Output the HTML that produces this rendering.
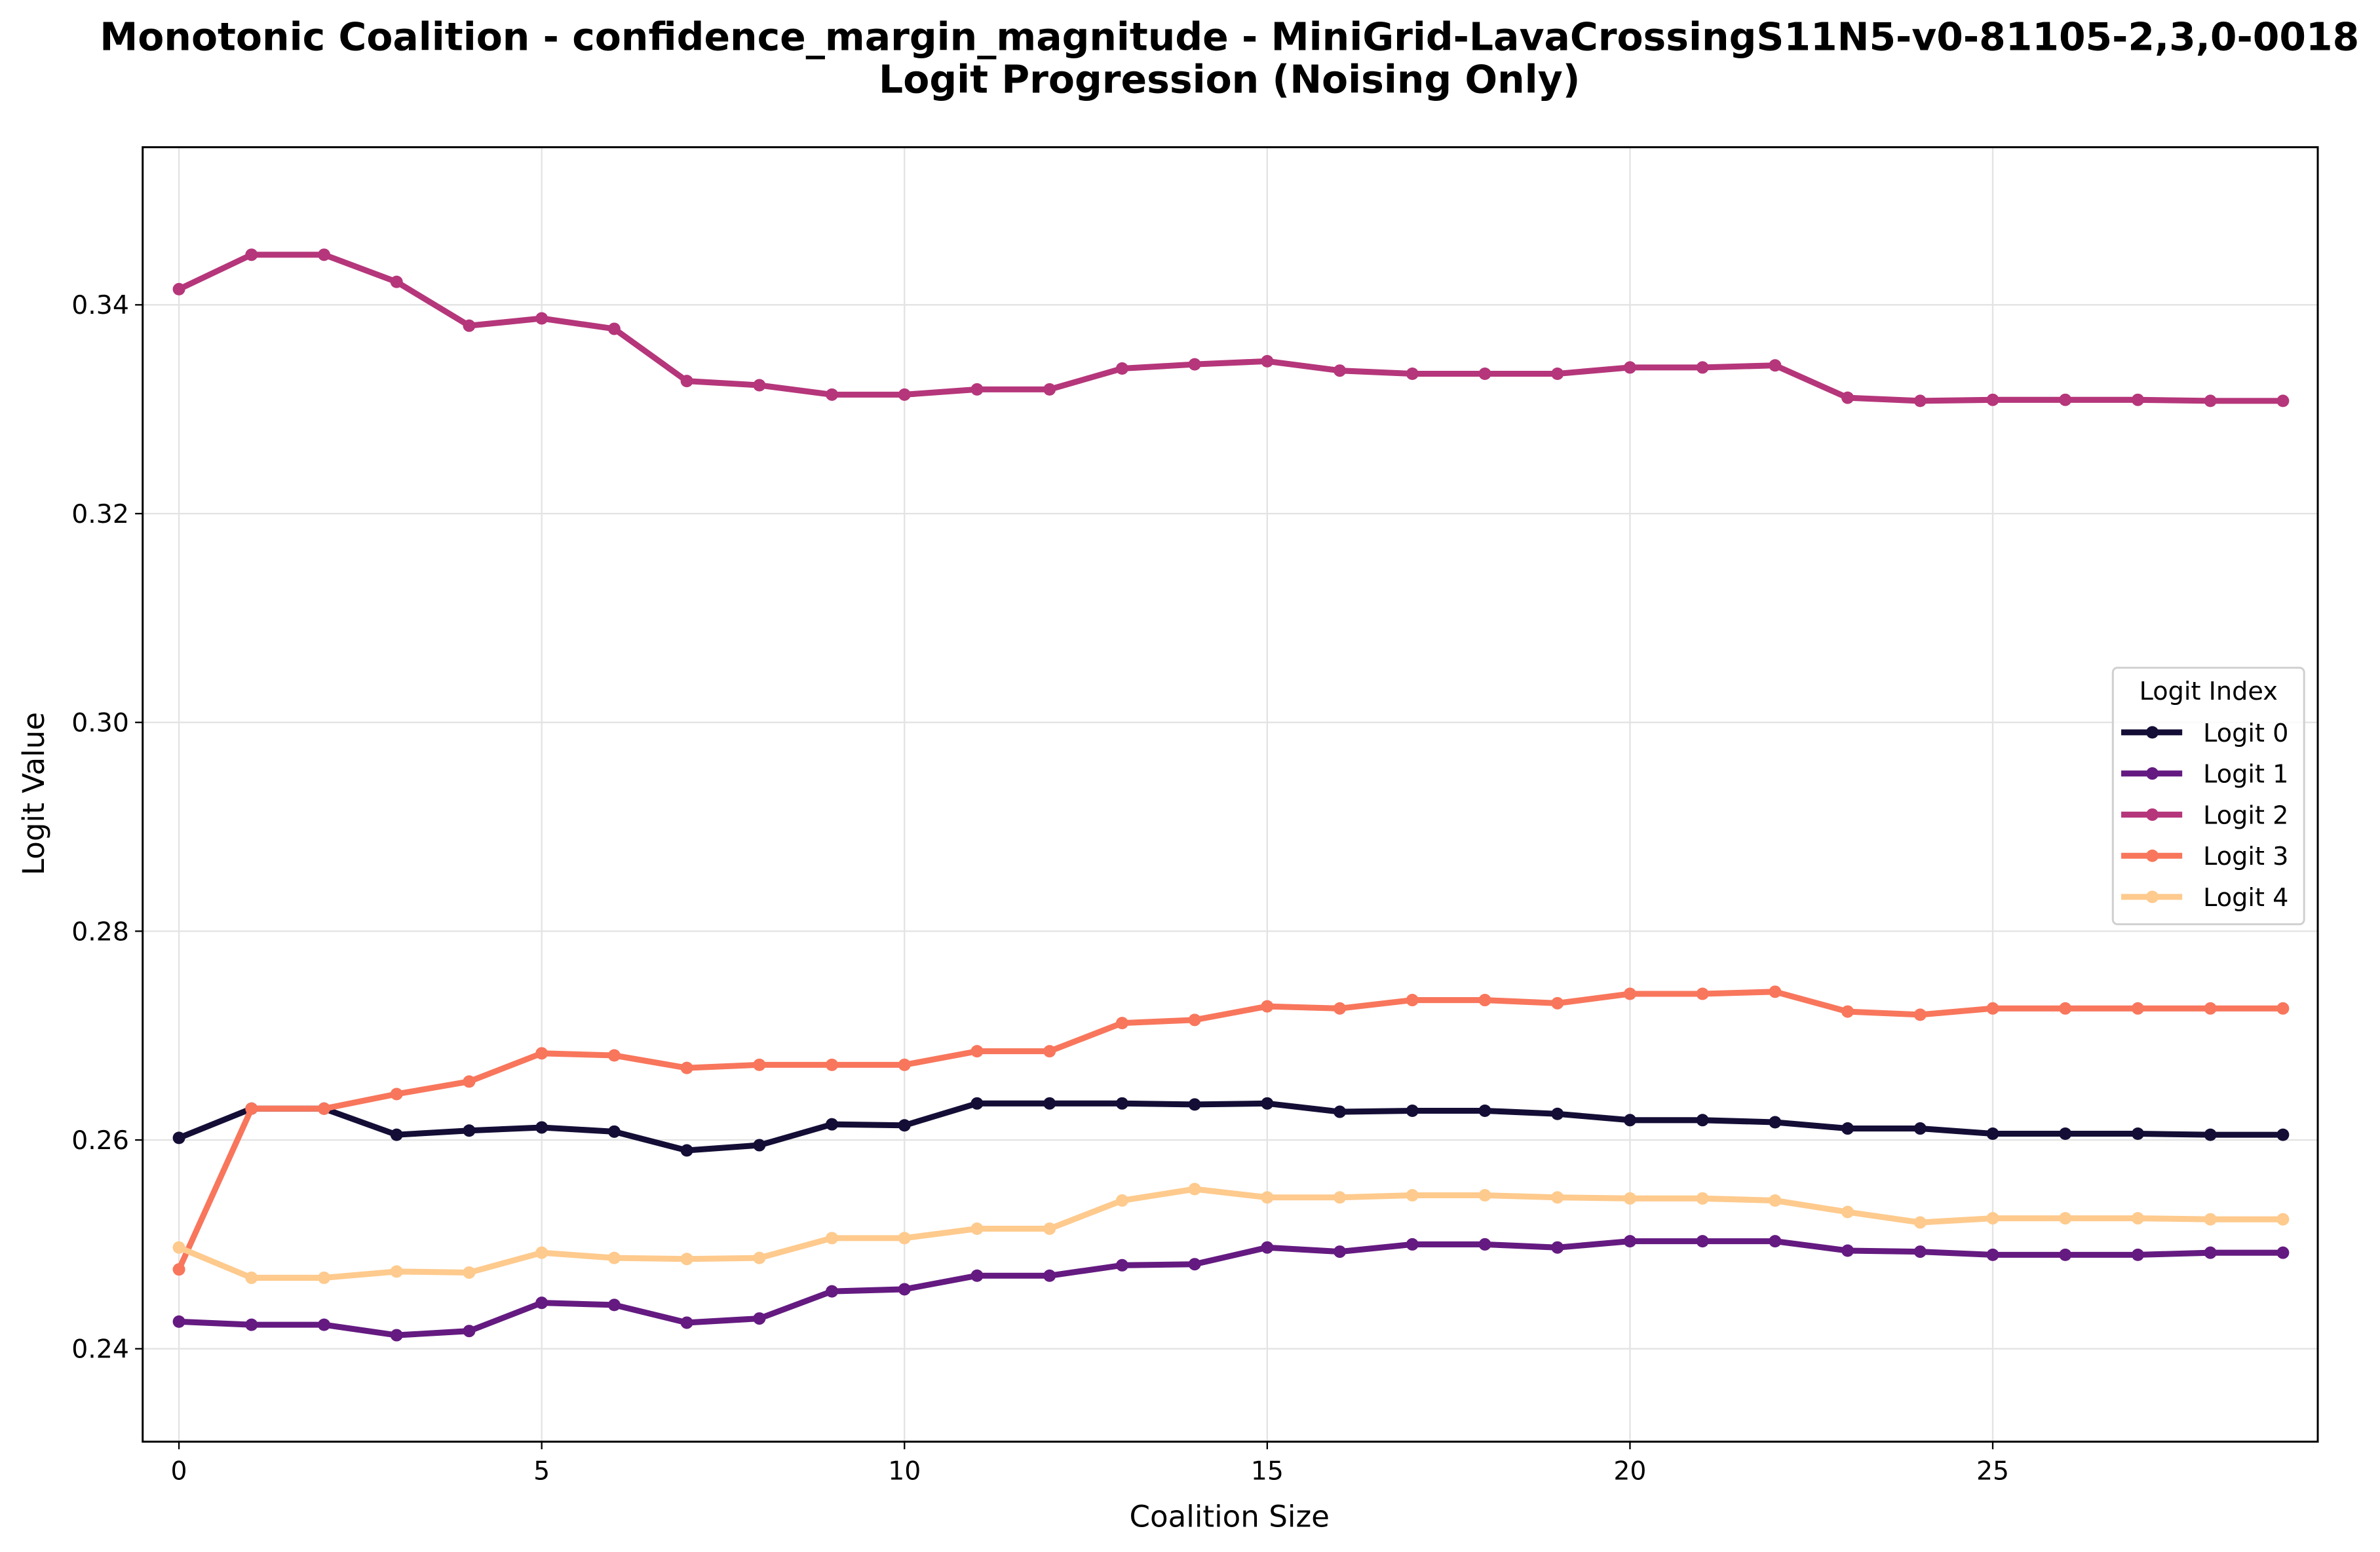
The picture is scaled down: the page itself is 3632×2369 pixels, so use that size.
<!DOCTYPE html>
<html><head><meta charset="utf-8"><style>html,body{margin:0;padding:0;background:#fff}svg{display:block}text{font-family:"DejaVu Sans","Liberation Sans",sans-serif}</style></head>
<body>
<svg id="chart" width="3632" height="2369" viewBox="0 0 1568 1022.7" preserveAspectRatio="none" xmlns="http://www.w3.org/2000/svg">
<rect width="1568" height="1022.7" fill="#fff"/>
<text x="810" y="33" text-anchor="middle" font-size="25.2" font-weight="bold">Monotonic Coalition - confidence_margin_magnitude - MiniGrid-LavaCrossingS11N5-v0-81105-2,3,0-0018</text>
<text x="810" y="61" text-anchor="middle" font-size="25.2" font-weight="bold">Logit Progression (Noising Only)</text>
<g id="grid"></g>
<g id="series"></g>
<rect x="94" y="97" width="1433" height="853" fill="none" stroke="#000" stroke-width="1.3"/>
<g id="axes"></g>
<text x="810" y="1006" text-anchor="middle" font-size="19.5">Coalition Size</text>
<text transform="translate(29,523) rotate(-90)" text-anchor="middle" font-size="19.5">Logit Value</text>
<g id="legend"></g>
</svg>
<script>
const categories=[0,1,2,3,4,5,6,7,8,9,10,11,12,13,14,15,16,17,18,19,20,21,22,23,24,25,26,27,28,29];
const logit0=[0.2602,0.2630,0.2630,0.2605,0.2609,0.2612,0.2608,0.2590,0.2595,0.2615,0.2614,0.2635,0.2635,0.2635,0.2634,0.2635,0.2627,0.2628,0.2628,0.2625,0.2619,0.2619,0.2617,0.2611,0.2611,0.2606,0.2606,0.2606,0.2605,0.2605];
const logit1=[0.2426,0.2423,0.2423,0.2413,0.2417,0.2444,0.2442,0.2425,0.2429,0.2455,0.2457,0.2470,0.2470,0.2480,0.2481,0.2497,0.2493,0.2500,0.2500,0.2497,0.2503,0.2503,0.2503,0.2494,0.2493,0.2490,0.2490,0.2490,0.2492,0.2492];
const logit2=[0.3415,0.3448,0.3448,0.3422,0.3380,0.3387,0.3377,0.3327,0.3323,0.3314,0.3314,0.3319,0.3319,0.3339,0.3343,0.3346,0.3337,0.3334,0.3334,0.3334,0.3340,0.3340,0.3342,0.3311,0.3308,0.3309,0.3309,0.3309,0.3308,0.3308];
const logit3=[0.2476,0.2630,0.2630,0.2644,0.2656,0.2683,0.2681,0.2669,0.2672,0.2672,0.2672,0.2685,0.2685,0.2712,0.2715,0.2728,0.2726,0.2734,0.2734,0.2731,0.2740,0.2740,0.2742,0.2723,0.2720,0.2726,0.2726,0.2726,0.2726,0.2726];
const logit4=[0.2497,0.2468,0.2468,0.2474,0.2473,0.2492,0.2487,0.2486,0.2487,0.2506,0.2506,0.2515,0.2515,0.2542,0.2553,0.2545,0.2545,0.2547,0.2547,0.2545,0.2544,0.2544,0.2542,0.2531,0.2521,0.2525,0.2525,0.2525,0.2524,0.2524];
const xTicks=[0,5,10,15,20,25];
const yTicks=[0.24,0.26,0.28,0.30,0.32,0.34];
const seriesNames=["Logit 0","Logit 1","Logit 2","Logit 3","Logit 4"];
const seriesValues=[logit0,logit1,logit2,logit3,logit4];
const colors=["#140e36","#641a80","#b5367a","#f8765c","#feca8d"];
const NS="http://www.w3.org/2000/svg";
const X0=94,X1=1527,Y0=97,Y1=950,xmin=-0.5,xmax=29.48,ymin=0.2311,ymax=0.3551;
const sx=v=>X0+(v-xmin)/(xmax-xmin)*(X1-X0);
const sy=v=>Y1-(v-ymin)/(ymax-ymin)*(Y1-Y0);
function mk(tag,attrs,parent){const e=document.createElementNS(NS,tag);for(const k in attrs)e.setAttribute(k,attrs[k]);parent.appendChild(e);return e;}
const grid=document.getElementById('grid'),axes=document.getElementById('axes'),ser=document.getElementById('series'),leg=document.getElementById('legend');
xTicks.forEach(t=>{const x=sx(t);
 const g=mk('line',{x1:x,x2:x,y1:Y0,y2:Y1,stroke:'#e3e3e3','stroke-width':1},grid);
 
 
 const tk=mk('line',{x1:x,x2:x,y1:Y1,y2:Y1+5,stroke:'#000','stroke-width':1},axes);
 
 
 const tx=mk('text',{x:x,y:Y1+25,'text-anchor':'middle','font-size':17},axes);tx.textContent=t;
 
 
});
yTicks.forEach(t=>{const y=sy(t);
 const g=mk('line',{x1:X0,x2:X1,y1:y,y2:y,stroke:'#e3e3e3','stroke-width':1},grid);
 
 
 const tk=mk('line',{x1:X0-5,x2:X0,y1:y,y2:y,stroke:'#000','stroke-width':1},axes);
 
 
 const tx=mk('text',{x:X0-9,y:y+6,'text-anchor':'end','font-size':17},axes);tx.textContent=t.toFixed(2);
 
 
});
seriesValues.forEach((vals,i)=>{
 const pts=vals.map((v,j)=>sx(categories[j])+','+sy(v)).join(' ');
 const pl=mk('polyline',{points:pts,fill:'none',stroke:colors[i],'stroke-width':3.9,'stroke-linejoin':'round'},ser);
 
 
 vals.forEach((v,j)=>{const c=mk('circle',{cx:sx(categories[j]),cy:sy(v),r:4.1,fill:colors[i]},ser);
  
  });
});
const lb=mk('rect',{x:1392,y:440,width:126,height:169,rx:3,fill:'#fff','fill-opacity':0.8,stroke:'#d0d0d0','stroke-width':1.3},leg);


const lt=mk('text',{x:1455,y:461,'text-anchor':'middle','font-size':16.5},leg);lt.textContent='Logit Index';


seriesNames.forEach((n,i)=>{const y=482.6+i*27.1;
 const g=mk('g',{},leg);
 
 
 mk('line',{x1:1397.5,x2:1437.7,y1:y,y2:y,stroke:colors[i],'stroke-width':3.9},g);
 mk('circle',{cx:1418,cy:y,r:4.1,fill:colors[i]},g);
 const t=mk('text',{x:1451.5,y:y+6,'font-size':16.5},g);t.textContent=n;
});
</script>
</body></html>
